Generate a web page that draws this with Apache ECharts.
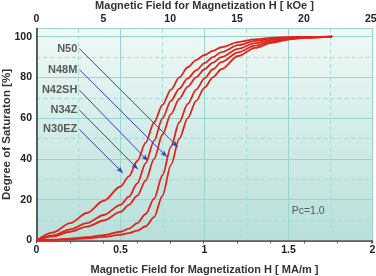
<!DOCTYPE html>
<html><head><meta charset="utf-8">
<script src="https://cdn.jsdelivr.net/npm/echarts@6/dist/echarts.min.js"></script>
<style>html,body{margin:0;padding:0;background:#fff}#c{width:376px;height:276px}</style>
</head><body><div id="c"></div>
<script>
// Magnetic field H [MA/m]
const H = [0, 0.1, 0.2, 0.3, 0.4, 0.5, 0.55, 0.6, 0.65, 0.7, 0.75, 0.8, 0.85, 0.9, 0.95, 1.0, 1.05, 1.1, 1.2, 1.3, 1.4, 1.5, 1.6, 1.76];
// Degree of saturation [%]
const N30EZ = [0, 4, 8.5, 13.5, 19.5, 26.5, 31.5, 39, 48, 58, 66.5, 74, 80, 85, 88.5, 91, 93, 94.8, 97.3, 98.7, 99.4, 99.75, 99.9, 100];
const N34Z  = [0, 2.5, 5.5, 8.5, 12.5, 17.5, 21.5, 28, 38, 49, 60, 68.5, 74.5, 79.5, 83.5, 87, 90, 92.4, 95.8, 97.9, 99, 99.5, 99.8, 100];
const N42SH = [0, 2, 4.3, 6.8, 9.8, 14, 17.5, 22, 29.5, 40, 52, 62, 69.5, 75.5, 80, 84, 87.3, 90, 94, 96.8, 98.4, 99.3, 99.7, 100];
const N48M  = [0, 0.4, 0.9, 1.6, 2.6, 4.3, 5.8, 8.5, 13, 20.5, 32, 46, 58, 67, 74, 79.5, 84, 87.5, 92.3, 95.6, 97.7, 98.9, 99.5, 100];
const N50   = [0, 0.3, 0.6, 1.1, 1.8, 2.8, 3.6, 4.8, 7, 11.5, 22, 37, 50, 60, 68.5, 75, 80, 84, 90.5, 94.5, 97, 98.6, 99.4, 100];
const curveNames = ['N30EZ', 'N34Z', 'N42SH', 'N48M', 'N50'];
const curveValues = [N30EZ, N34Z, N42SH, N48M, N50];

// Callout labels and arrows
const calloutNames = ['N50', 'N48M', 'N42SH', 'N34Z', 'N30EZ'];
const calloutX = 0.255;
const calloutY = [94.2, 83.9, 73.8, 64, 54.5];
const arrowToX = [0.842, 0.777, 0.664, 0.604, 0.515];
const arrowToY = [45.8, 41, 39, 35, 33.1];
const noteText = 'Pc=1.0';
const notePos = [1.617, 14.5];

const kOeMax = 25.13;

const chart = echarts.init(document.getElementById('c'), null, {renderer: 'canvas'});
const FONT = 'Liberation Sans, Arial, sans-serif';
const solidGrid = '#97d6cd';
const dashGrid = '#a3dbd3';

const series = curveNames.map((n, i) => ({
  name: n, type: 'line', xAxisIndex: 0, yAxisIndex: 0,
  data: H.map((h, j) => [h, curveValues[i][j]]),
  showSymbol: false, symbol: 'none', smooth: 0.3, smoothMonotone: 'x',
  lineStyle: {color: '#e2231a', width: 1.8}, z: 3
}));

series.push({
  type: 'scatter', xAxisIndex: 0, yAxisIndex: 0, symbolSize: 0, z: 5,
  data: calloutNames.map((n, i) => ({value: [calloutX, calloutY[i]], name: n})),
  label: {show: true, position: 'left', distance: 2, formatter: p => p.name,
    fontFamily: FONT, fontSize: 11, fontWeight: 'bold', color: '#333'},
  markLine: {
    silent: true, symbol: ['none', 'arrow'], symbolSize: [4, 7],
    label: {show: false},
    lineStyle: {color: '#4040b4', width: 1, type: 'solid'},
    data: calloutNames.map((n, i) => [{coord: [calloutX, calloutY[i]]}, {coord: [arrowToX[i], arrowToY[i]]}])
  }
});

series.push({
  type: 'scatter', xAxisIndex: 0, yAxisIndex: 0, symbolSize: 0, z: 5,
  data: [{value: notePos, name: noteText}],
  label: {show: true, position: 'inside', formatter: p => p.name,
    fontFamily: FONT, fontSize: 10.5, color: '#333'}
});

const titleStyle = {fontFamily: FONT, fontSize: 11, color: '#333', fontWeight: 'bold'};

chart.setOption({
  animation: false,
  backgroundColor: '#fff',
  grid: {
    left: 36.5, right: 3.5, top: 28.5, bottom: 35.5, show: true,
    borderColor: '#777', borderWidth: 1, outerBoundsMode: 'none', containLabel: false,
    backgroundColor: {type: 'linear', x: 0, y: 0, x2: 0, y2: 1,
      colorStops: [{offset: 0, color: '#eff9f7'}, {offset: 1, color: '#b8dfda'}]}
  },
  xAxis: [{
    type: 'value', position: 'bottom', min: 0, max: 2, interval: 0.5,
    name: 'Magnetic Field for Magnetization H [ MA/m ]', nameLocation: 'middle', nameGap: 24,
    nameMoveOverlap: false, nameTextStyle: titleStyle,
    axisLine: {show: true, lineStyle: {color: '#333', width: 1.5}},
    axisTick: {show: false},
    axisLabel: {margin: 4, fontFamily: FONT, fontSize: 10.5, fontWeight: 'bold', color: '#222'},
    splitLine: {show: true, lineStyle: {color: solidGrid, width: 1}},
    minorTick: {show: false, splitNumber: 2},
    minorSplitLine: {show: true, lineStyle: {color: dashGrid, width: 1, type: [4, 3]}}
  }, {
    type: 'value', position: 'top', min: 0, max: kOeMax, interval: 2.5,
    name: 'Magnetic Field for Magnetization H [ kOe ]', nameLocation: 'middle', nameGap: 17,
    nameMoveOverlap: false, nameTextStyle: titleStyle,
    axisLine: {show: true, lineStyle: {color: '#777', width: 1}},
    axisTick: {show: true, inside: true, length: 3, lineStyle: {color: '#555'}},
    axisLabel: {margin: 4, fontFamily: FONT, fontSize: 10.5, fontWeight: 'bold', color: '#222',
      formatter: v => (Math.abs(v % 5) < 1e-9 && v <= 25) ? String(v) : ''},
    splitLine: {show: false}
  }],
  yAxis: [{
    type: 'value', min: 0, max: 104, interval: 20,
    name: 'Degree of Saturaton [%]', nameLocation: 'middle', nameGap: 24,
    nameMoveOverlap: false, nameTextStyle: Object.assign({}, titleStyle, {fontSize: 11.5}),
    axisLine: {show: true, lineStyle: {color: '#333', width: 1.5}},
    axisTick: {show: false},
    axisLabel: {margin: 4.5, fontFamily: FONT, fontSize: 10.5, fontWeight: 'bold', color: '#222',
      formatter: v => (v % 20 === 0 && v <= 100) ? String(v) : ''},
    splitLine: {show: true, lineStyle: {color: solidGrid, width: 1}}
  }, {
    type: 'value', min: 0, max: 104, interval: 10, position: 'left',
    axisLine: {show: false}, axisTick: {show: false}, axisLabel: {show: false},
    splitLine: {show: true, lineStyle: {color: ['rgba(0,0,0,0)', dashGrid], width: 1, type: [4, 3]}}
  }],
  series: series
});
</script>
</body></html>
